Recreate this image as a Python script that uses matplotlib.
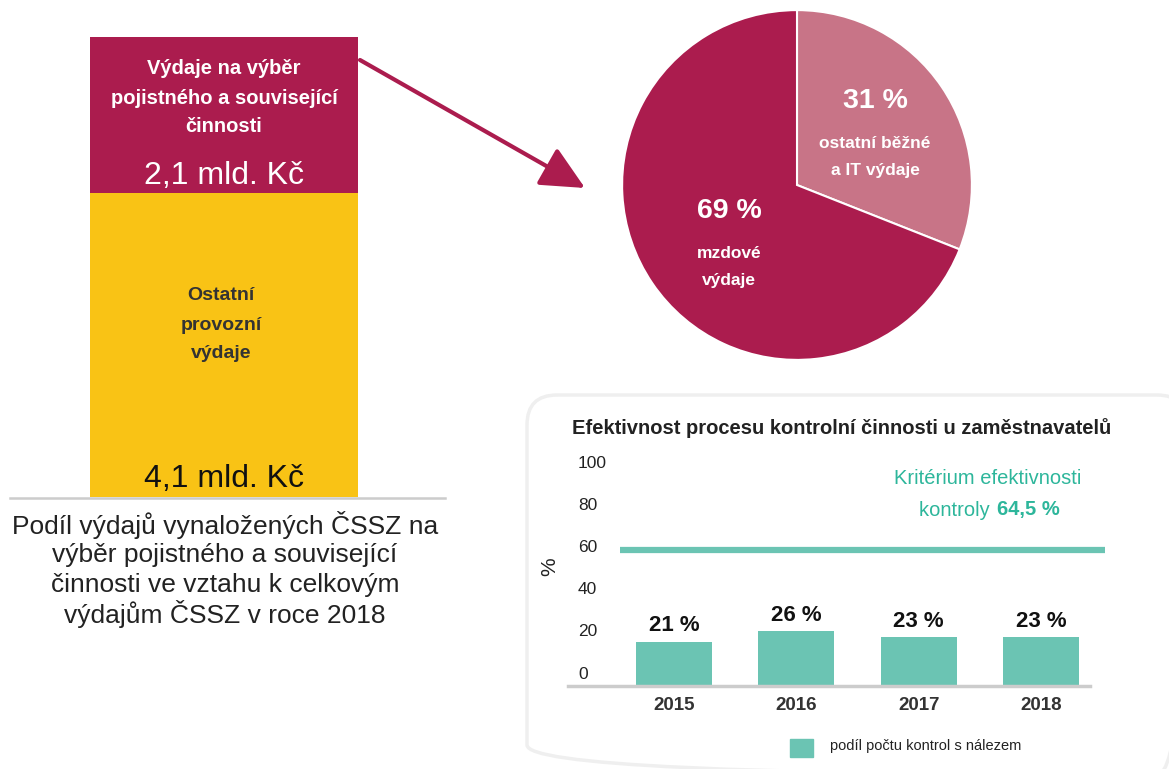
import matplotlib
matplotlib.use("Agg")
import matplotlib.pyplot as plt
from matplotlib.patches import FancyBboxPatch, FancyArrowPatch, Rectangle, ArrowStyle

plt.rcParams['font.family'] = ['Liberation Sans', 'DejaVu Sans']

# data
collection_cost = 2.1   # mld. Kč
other_cost = 4.1        # mld. Kč
pie_labels = ["ostatní běžné\na IT výdaje", "mzdové\nvýdaje"]
pie_values = [31, 69]
years = ["2015", "2016", "2017", "2018"]
finding_share = [21, 26, 23, 23]
criterion = 64.5
yticks = [0, 20, 40, 60, 80, 100]

caption_lines = ["Podíl výdajů vynaložených ČSSZ na",
                 "výběr pojistného a související",
                 "činnosti ve vztahu k celkovým",
                 "výdajům ČSSZ v roce 2018"]

RED = "#AB1C4E"
PINK = "#C87487"
YELLOW = "#F9C315"
TEAL = "#6BC4B3"
TEAL_TXT = "#2DB69B"
GREY = "#CCCCCC"

W, H = 1169, 769
fig = plt.figure(figsize=(W / 100, H / 100), dpi=100)


def box(x0, y0, x1, y1):
    return [x0 / W, 1 - y1 / H, (x1 - x0) / W, (y1 - y0) / H]


def fmt(v):
    return f"{v:.1f}".replace(".", ",")


# stacked bar on the left
ax_s = fig.add_axes(box(90, 37, 358, 497))
ax_s.bar(0, other_cost, width=1, color=YELLOW)
ax_s.bar(0, collection_cost, bottom=other_cost, width=1, color=RED)
ax_s.set_xlim(-0.5, 0.5)
ax_s.set_ylim(0, other_cost + collection_cost)
ax_s.axis("off")

# pie
ax_p = fig.add_axes(box(620, 8, 974, 362))
ax_p.pie(pie_values, startangle=90, counterclock=False, colors=[PINK, RED],
         wedgeprops=dict(edgecolor="white", linewidth=1.5))
ax_p.set_xlim(-1.012, 1.012)
ax_p.set_ylim(-1.012, 1.012)

# bar chart
ax_c = fig.add_axes(box(568, 475, 1090, 686))
x = range(len(years))
ax_c.bar(x, finding_share, width=0.62, color=TEAL)
ax_c.set_xlim(-0.867, 3.4)
ax_c.set_ylim(0, 100)
ax_c.hlines(criterion, -0.44, 3.524, color=TEAL, lw=4.5, clip_on=False)
for i, v in zip(x, finding_share):
    ax_c.annotate(f"{v} %", xy=(i, v), xytext=(0, 4), textcoords="offset points",
                  ha="center", va="bottom", fontsize=16, fontweight="bold", color="#111111")
for v in yticks:
    ax_c.annotate(str(v), xy=(0.019, v), xycoords=("axes fraction", "data"),
                  xytext=(0, 8.6), textcoords="offset points",
                  ha="left", va="center", fontsize=12.5, color="#222222")
ax_c.set_xticks(list(x), years, fontsize=13.5, fontweight="bold", color="#333333")
ax_c.set_yticks([])
ax_c.tick_params(axis="x", length=0, pad=8)
for s in ["top", "right", "left"]:
    ax_c.spines[s].set_visible(False)
ax_c.spines["bottom"].set_color(GREY)
ax_c.spines["bottom"].set_linewidth(2.5)
ax_c.patch.set_alpha(0)

# overlay in pixel coordinates for texts and decorations
ov = fig.add_axes([0, 0, 1, 1], zorder=10)
ov.set_xlim(0, W)
ov.set_ylim(H, 0)
ov.axis("off")
ov.patch.set_alpha(0)

panel = FancyBboxPatch((527, 395), 660, 380, boxstyle="round,pad=0,rounding_size=30",
                       fc="none", ec="#EFEFEF", lw=2.5, zorder=0)
ov.add_patch(panel)

ov.plot([10, 445], [498, 498], color=GREY, lw=1.8)

arrow = FancyArrowPatch((360, 60), (585, 188), shrinkA=0, shrinkB=0,
                        arrowstyle=ArrowStyle("-|>", head_length=2.7, head_width=1.3),
                        mutation_scale=10, color=RED, lw=3)
ov.add_patch(arrow)

# stacked bar texts
for y, t in zip([69, 99, 127], ["Výdaje na výběr", "pojistného a související", "činnosti"]):
    ov.text(224, y, t, ha="center", va="center", fontsize=14.5, fontweight="bold", color="white")
ov.text(224, 176, f"{fmt(collection_cost)} mld. Kč", ha="center", va="center", fontsize=23, color="white")
for y, t in zip([296, 325, 354], ["Ostatní", "provozní", "výdaje"]):
    ov.text(221, y, t, ha="center", va="center", fontsize=14, fontweight="bold", color="#333333")
ov.text(224, 479, f"{fmt(other_cost)} mld. Kč", ha="center", va="center", fontsize=23, color="#111111")

for y, t in zip([525, 555, 585, 614], caption_lines):
    ov.text(225, y, t, ha="center", va="center", fontsize=19, color="#222222")

# pie texts
pie_pos = [(875, 101), (729, 211)]
for (px, py), v, lab in zip(pie_pos, pie_values, pie_labels):
    ov.text(px, py, f"{v} %", ha="center", va="center", fontsize=20.5, fontweight="bold", color="white")
    for k, line in enumerate(lab.split("\n")):
        ov.text(px, py + 42 + 28 * k, line, ha="center", va="center", fontsize=12.5,
                fontweight="bold", color="white")

# bar chart texts
ov.text(572, 428, "Efektivnost procesu kontrolní činnosti u zaměstnavatelů", ha="left", va="center",
        fontsize=14.5, fontweight="bold", color="#222222")
ov.text(550, 567, "%", rotation=90, ha="center", va="center", fontsize=15, color="#222222")
ov.text(988, 478, "Kritérium efektivnosti", ha="center", va="center", fontsize=14.5, color=TEAL_TXT)
ov.text(995, 510, "kontroly ", ha="right", va="center", fontsize=14.5, color=TEAL_TXT)
ov.text(997, 510, f"{fmt(criterion)} %", ha="left", va="center", fontsize=14.5,
        fontweight="bold", color=TEAL_TXT)
ov.add_patch(Rectangle((790, 739), 23, 18, color=TEAL))
ov.text(830, 746, "podíl počtu kontrol s nálezem", ha="left", va="center", fontsize=10.5, color="#222222")

fig.savefig("out.png", dpi=100)
